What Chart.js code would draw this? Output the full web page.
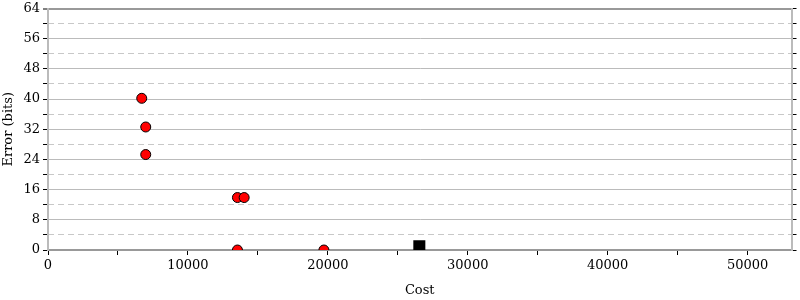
<!DOCTYPE html>
<html>
<head>
<meta charset="utf-8">
<script src="https://cdn.jsdelivr.net/npm/chart.js@4"></script>
<style>
  html, body { margin: 0; padding: 0; background: #fff; }
  #wrap { width: 800px; height: 300px; position: relative; }
</style>
</head>
<body>
<div id="wrap"><canvas id="c" width="800" height="300"></canvas></div>
<script>
// Data
const circleCost  = [6700, 6985, 6985, 13540, 14020, 13540, 19720];
const circleError = [40.2, 32.6, 25.3, 13.9, 13.9, 0, 0];
const squareCost  = [26540];
const squareError = [1];
const yTickValues = [0, 8, 16, 24, 32, 40, 48, 56, 64];
const yMinorValues = [4, 12, 20, 28, 36, 44, 52, 60];
const xTickValues = [0, 10000, 20000, 30000, 40000, 50000];
const xMinorValues = [5000, 15000, 25000, 35000, 45000];
const xAxisTitle = 'Cost';
const yAxisTitle = 'Error (bits)';

const FONT = "'DejaVu Serif', serif";
Chart.defaults.font.family = FONT;
Chart.defaults.font.size = 13;
Chart.defaults.color = '#000';

const circlePts = circleCost.map((x, i) => ({ x: x, y: circleError[i] }));
const squarePts = squareCost.map((x, i) => ({ x: x, y: squareError[i] }));
const allX = xTickValues.concat(xMinorValues).sort((a, b) => a - b);
const allY = yTickValues.concat(yMinorValues).sort((a, b) => a - b);

const fixVPad = s => { s.paddingTop = 5; s.paddingBottom = 0; };

new Chart(document.getElementById('c'), {
  type: 'scatter',
  data: {
    datasets: [
      {
        data: circlePts,
        pointStyle: 'circle',
        pointRadius: 5,
        pointHoverRadius: 5,
        backgroundColor: '#ff0000',
        borderColor: '#000',
        borderWidth: 1,
        clip: 0
      },
      {
        data: squarePts,
        pointStyle: 'rect',
        pointRadius: 8.5,
        pointHoverRadius: 8.5,
        backgroundColor: '#000',
        borderColor: '#000',
        borderWidth: 0,
        clip: 0
      }
    ]
  },
  options: {
    responsive: false,
    animation: false,
    events: [],
    layout: { padding: { top: 0, left: 0, right: 1, bottom: 0 } },
    plugins: { legend: { display: false }, tooltip: { enabled: false } },
    scales: {
      x: {
        type: 'linear',
        position: 'bottom',
        min: 0,
        max: 53140,
        afterBuildTicks: s => { s.ticks = allX.map(v => ({ value: v })); },
        afterFit: s => { s.height = 50; },
        ticks: {
          autoSkip: false,
          maxRotation: 0,
          padding: 3,
          callback: v => xTickValues.includes(v) ? String(v) : ''
        },
        grid: {
          drawOnChartArea: false,
          tickLength: 5,
          tickColor: '#000',
          tickWidth: 1
        },
        border: { color: '#999', width: 2 },
        title: { display: true, text: xAxisTitle, padding: { top: 4, bottom: 2 }, font: { size: 13 } }
      },
      y: {
        type: 'linear',
        position: 'left',
        min: 0,
        max: 64,
        afterBuildTicks: s => { s.ticks = allY.map(v => ({ value: v })); },
        afterFit: s => { s.width = 48; fixVPad(s); },
        ticks: {
          autoSkip: false,
          padding: 3,
          callback: v => yTickValues.includes(v) ? String(v) : ''
        },
        grid: {
          color: ctx => {
            const v = ctx.tick ? ctx.tick.value : 0;
            if (v === 64) return '#999';
            return v % 8 === 0 ? '#bbb' : 'rgba(0,0,0,0)';
          },
          lineWidth: ctx => (ctx.tick && ctx.tick.value === 64) ? 2 : 1,
          tickLength: 5,
          tickColor: '#000',
          tickWidth: 1
        },
        border: { color: '#bbb', width: 2 },
        title: { display: true, text: yAxisTitle, padding: { top: 1, bottom: 4 }, font: { size: 13 } }
      },
      yMinor: {
        type: 'linear',
        position: 'left',
        min: 0,
        max: 64,
        afterBuildTicks: s => { s.ticks = yMinorValues.map(v => ({ value: v })); },
        afterFit: s => { s.width = 0; fixVPad(s); },
        ticks: { display: false },
        grid: { color: '#c8c8c8', lineWidth: 1, drawTicks: false },
        border: { display: false, dash: [6, 4] }
      },
      yRight: {
        type: 'linear',
        position: 'right',
        min: 0,
        max: 64,
        afterBuildTicks: s => { s.ticks = allY.map(v => ({ value: v })); },
        afterFit: s => { fixVPad(s); },
        ticks: { display: false },
        grid: { drawOnChartArea: false, tickLength: 5, tickColor: '#000', tickWidth: 1 },
        border: { color: '#bbb', width: 2 }
      }
    }
  }
});
</script>
</body>
</html>
